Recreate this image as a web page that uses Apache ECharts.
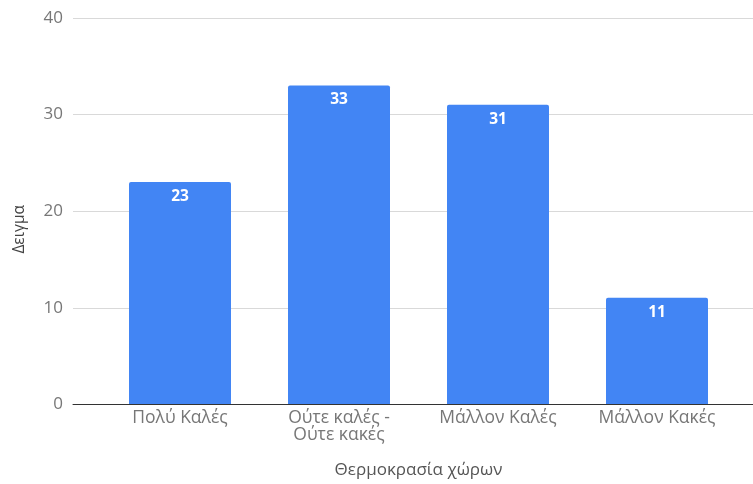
<!DOCTYPE html>
<html>
<head>
<meta charset="utf-8">
<script src="https://cdn.jsdelivr.net/npm/echarts@6/dist/echarts.min.js"></script>
<style>
  html, body { margin: 0; padding: 0; background: #ffffff; }
  #chart { width: 753px; height: 484px; }
</style>
</head>
<body>
<div id="chart"></div>
<script>
// Survey answers about room temperature
const categories = ['Πολύ Καλές', 'Ούτε καλές -\nΟύτε κακές', 'Μάλλον Καλές', 'Μάλλον Κακές'];
const counts = [23, 33, 31, 11];
const yTicks = { min: 0, max: 40, interval: 10 };
const xTitle = 'Θερμοκρασία χώρων';
const yTitle = 'Δειγμα';

const font = '"Open Sans", Roboto, Arial, sans-serif';
const grey = '#777777';

const chart = echarts.init(document.getElementById('chart'), null, { renderer: 'canvas' });

chart.setOption({
  animation: false,
  textStyle: { fontFamily: font },
  grid: [
    // bars
    { left: 100.5, right: 16.5, top: 18, bottom: 79.5, containLabel: false },
    // full-width gridlines and value labels
    { left: 73, right: 0, top: 18, bottom: 79.5, containLabel: false }
  ],
  xAxis: [
    {
      type: 'category', gridIndex: 0, data: categories,
      axisLine: { show: false }, axisTick: { show: false },
      axisLabel: { color: grey, fontSize: 17.5, margin: 6, lineHeight: 17, fontFamily: font, interval: 0 },
      name: xTitle, nameLocation: 'middle', nameGap: 58,
      nameTextStyle: { color: '#555555', fontSize: 17, fontFamily: font }
    },
    {
      type: 'value', gridIndex: 1, min: 0, max: 1,
      axisLine: { show: true, lineStyle: { color: '#333333', width: 1 } },
      axisTick: { show: false }, axisLabel: { show: false }, splitLine: { show: false }
    }
  ],
  yAxis: [
    {
      type: 'value', gridIndex: 0, min: yTicks.min, max: yTicks.max, interval: yTicks.interval,
      show: false, splitLine: { show: false }
    },
    {
      type: 'value', gridIndex: 1, min: yTicks.min, max: yTicks.max, interval: yTicks.interval,
      axisLine: { show: false }, axisTick: { show: false },
      axisLabel: { color: grey, fontSize: 17, margin: 10, fontFamily: font },
      splitLine: { show: true, lineStyle: { color: '#d9d9d9', width: 1 } }
    }
  ],
  graphic: [
    {
      type: 'text', left: 12, top: 205, rotation: Math.PI / 2,
      style: { text: yTitle, fill: '#444444', font: '15.5px ' + font }
    }
  ],
  series: [
    {
      type: 'bar', xAxisIndex: 0, yAxisIndex: 0, data: counts,
      barWidth: 102, z: 3,
      itemStyle: { color: '#4285F4', borderRadius: [2, 2, 0, 0] },
      label: {
        show: true, position: 'insideTop', distance: 6.5,
        color: '#ffffff', fontWeight: 'bold', fontSize: 15.5, fontFamily: font
      }
    }
  ]
});
</script>
</body>
</html>
